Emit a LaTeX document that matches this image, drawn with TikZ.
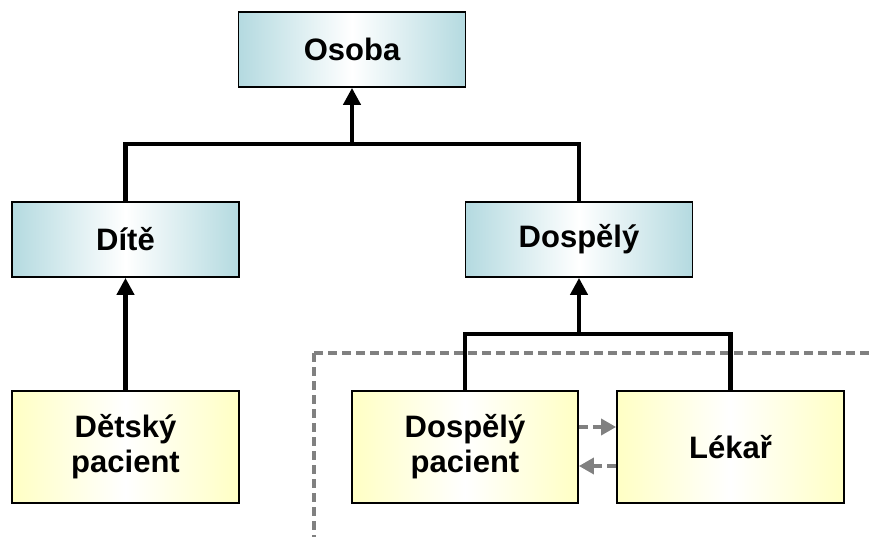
\documentclass[tikz,border=0pt]{standalone}
\usepackage{fontspec}
\setmainfont{Liberation Sans}
\usetikzlibrary{arrows.meta}
\definecolor{tealc}{RGB}{180,218,224}
\definecolor{yelc}{RGB}{255,255,196}
\definecolor{greyc}{RGB}{128,128,128}
\tikzset{
  basebox/.style={draw=black, line width=1.8pt, inner sep=0pt, align=center,
    font=\fontsize{31}{35}\selectfont\bfseries, text=black},
  classbox/.style={basebox, minimum width=227pt, minimum height=75pt,
    left color=tealc, right color=tealc, middle color=white},
  leafbox/.style={basebox, minimum width=227pt, minimum height=112pt,
    left color=yelc, right color=yelc, middle color=white},
  conn/.style={draw=black, line width=4.2pt},
  inherit/.style={conn, -{Triangle[width=17pt,length=17pt]}},
  dasharrow/.style={draw=greyc, line width=3.5pt, dash pattern=on 9pt off 5pt,
    -{Triangle[width=16pt,length=15pt]}},
  bound/.style={draw=greyc, line width=3.2pt, dash pattern=on 9pt off 5pt}
}
\begin{document}
\begin{tikzpicture}[x=1pt,y=-1pt]
\useasboundingbox (0,0) rectangle (870,537);
\node[classbox] (osoba) at (352,49.5) {Osoba};
\node[classbox] (dite) at (125.5,239.5) {Dítě};
\node[classbox] (dospely) at (579,239.5) {Dospělý};
\node[leafbox] (detsky) at (125.5,447) {Dětský\\pacient};
\node[leafbox, minimum width=226pt] (dpac) at (465,447) {Dospělý\\pacient};
\node[leafbox] (lekar) at (730.5,447) {Lékař};
\coordinate (j1) at (352,144);
\coordinate (j2) at (579,334);
\coordinate (c1) at (314,537);
\coordinate (c2) at (314,353);
\coordinate (c3) at (870,353);
\draw[bound] (c2) -- (c3);
\draw[bound] (c2) -- (c1);
\draw[conn] (dite.north) |- (j1) -| (dospely.north);
\draw[inherit] (j1) -- (osoba.south);
\draw[inherit] (detsky.north) -- (dite.south);
\draw[conn] (dpac.north) |- (j2) -| (lekar.north);
\draw[inherit] (j2) -- (dospely.south);
\draw[dasharrow] ([yshift=20pt]dpac.east) -- ([yshift=20pt]lekar.west);
\draw[dasharrow] ([yshift=-19pt]lekar.west) -- ([yshift=-19pt]dpac.east);
\end{tikzpicture}
\end{document}
